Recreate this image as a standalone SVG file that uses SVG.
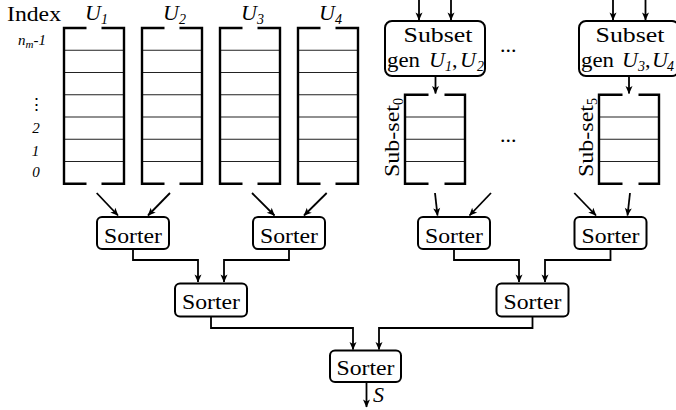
<svg xmlns="http://www.w3.org/2000/svg" width="676" height="410" viewBox="0 0 676 410">
<style>
.t{font-family:"Liberation Serif","Times New Roman",serif;font-size:22px;fill:#000}
.i{font-style:italic}
.lab{font-family:"Liberation Serif","Times New Roman",serif;font-style:italic;font-size:15px;fill:#000}
.frame{fill:none;stroke:#000;stroke-width:2.4}
.row{stroke:#222;stroke-width:1.1}
.box{fill:#fff;stroke:#000;stroke-width:2}
.con{fill:none;stroke:#000;stroke-width:1.8}
</style>
<defs>
<marker id="ah" viewBox="-8 -4 9 8" refX="0" refY="0" markerWidth="9" markerHeight="8" markerUnits="userSpaceOnUse" orient="auto">
<path d="M0.5,0 L-7.5,-3.5 L-5.5,0 L-7.5,3.5 Z" fill="#000"/>
</marker>
<g id="col7">
<path class="row" d="M0,22.25H60M0,44.5H60M0,66.75H60M0,89H60M0,111.25H60M0,133.5H60"/>
<path class="frame" d="M22.5,0H0V155.75H22.5M37.5,0H60V155.75H37.5"/>
</g>
<g id="col4">
<path class="row" d="M0,22.25H60M0,44.5H60M0,66.75H60"/>
<path class="frame" d="M23.5,0H0V89H23.5M39.5,0H60V89H39.5"/>
</g>
</defs>
<rect width="676" height="410" fill="#fff"/>

<g id="index">
<text class="t" x="7" y="21" textLength="54" lengthAdjust="spacingAndGlyphs">Index</text>
<text class="lab" x="18" y="45" font-size="16">n<tspan font-size="11" dy="3">m</tspan><tspan dy="-3">-1</tspan></text>
<text x="36.5" y="110" text-anchor="middle" font-family="DejaVu Serif, serif" font-size="17">⋮</text>
<text class="lab" x="36" y="133" text-anchor="middle">2</text>
<text class="lab" x="35.5" y="156" text-anchor="middle">1</text>
<text class="lab" x="36" y="177" text-anchor="middle">0</text>
</g>

<g id="u1">
<use href="#col7" x="64" y="28"/>
<text class="t i" x="85" y="20" font-size="20">U<tspan font-size="14" dy="4">1</tspan></text>
</g>
<g id="u2">
<use href="#col7" x="142" y="28"/>
<text class="t i" x="163" y="20" font-size="20">U<tspan font-size="14" dy="4">2</tspan></text>
</g>
<g id="u3">
<use href="#col7" x="220" y="28"/>
<text class="t i" x="241" y="20" font-size="20">U<tspan font-size="14" dy="4">3</tspan></text>
</g>
<g id="u4">
<use href="#col7" x="298" y="28"/>
<text class="t i" x="319" y="20" font-size="20">U<tspan font-size="14" dy="4">4</tspan></text>
</g>

<g id="gen1">
<rect class="box" x="385" y="21" width="100" height="55" rx="7"/>
<text class="t" x="438" y="42" text-anchor="middle" textLength="69" lengthAdjust="spacingAndGlyphs">Subset</text>
<text class="t" y="67"><tspan x="387" textLength="33" lengthAdjust="spacingAndGlyphs">gen</tspan><tspan x="429" class="i">U</tspan><tspan x="445" dy="4" font-size="14" class="i">1</tspan><tspan x="452" dy="-4">,</tspan><tspan x="460" class="i">U</tspan><tspan x="477" dy="4" font-size="14" class="i">2</tspan></text>
</g>
<g id="gen2">
<rect class="box" x="579" y="21" width="100" height="55" rx="7"/>
<text class="t" x="630" y="42" text-anchor="middle" textLength="69" lengthAdjust="spacingAndGlyphs">Subset</text>
<text class="t" y="67"><tspan x="581" textLength="33" lengthAdjust="spacingAndGlyphs">gen</tspan><tspan x="622" class="i">U</tspan><tspan x="638" dy="4" font-size="14" class="i">3</tspan><tspan x="645" dy="-4">,</tspan><tspan x="652" class="i">U</tspan><tspan x="667" dy="4" font-size="14" class="i">4</tspan></text>
</g>

<g id="sub0">
<use href="#col4" x="405" y="94.75"/>
<text class="t" transform="translate(399,177) rotate(-90)"><tspan textLength="72" lengthAdjust="spacingAndGlyphs">Sub-set</tspan><tspan font-size="14" dy="4">0</tspan></text>
</g>
<g id="sub5">
<use href="#col4" x="599" y="94.75"/>
<text class="t" transform="translate(593,177) rotate(-90)"><tspan textLength="72" lengthAdjust="spacingAndGlyphs">Sub-set</tspan><tspan font-size="14" dy="4">5</tspan></text>
</g>

<g id="dots">
<text class="t" x="500" y="52">...</text>
<text class="t" x="500" y="142">...</text>
</g>

<g id="s1"><rect class="box" x="97" y="217" width="72" height="32" rx="5"/><text class="t" x="133" y="242.5" text-anchor="middle" textLength="58" lengthAdjust="spacingAndGlyphs">Sorter</text></g>
<g id="s2"><rect class="box" x="253" y="217" width="72" height="32" rx="5"/><text class="t" x="289" y="242.5" text-anchor="middle" textLength="58" lengthAdjust="spacingAndGlyphs">Sorter</text></g>
<g id="s3"><rect class="box" x="418" y="217" width="72" height="32" rx="5"/><text class="t" x="454" y="242.5" text-anchor="middle" textLength="58" lengthAdjust="spacingAndGlyphs">Sorter</text></g>
<g id="s4"><rect class="box" x="574.5" y="217" width="72" height="32" rx="5"/><text class="t" x="610.5" y="242.5" text-anchor="middle" textLength="58" lengthAdjust="spacingAndGlyphs">Sorter</text></g>
<g id="s5"><rect class="box" x="175" y="283.5" width="72" height="33" rx="5"/><text class="t" x="211" y="309" text-anchor="middle" textLength="58" lengthAdjust="spacingAndGlyphs">Sorter</text></g>
<g id="s6"><rect class="box" x="496.5" y="283.5" width="72" height="33" rx="5"/><text class="t" x="532.5" y="309" text-anchor="middle" textLength="58" lengthAdjust="spacingAndGlyphs">Sorter</text></g>
<g id="s7"><rect class="box" x="330" y="350.5" width="71" height="31.5" rx="5"/><text class="t" x="365.5" y="375" text-anchor="middle" textLength="58" lengthAdjust="spacingAndGlyphs">Sorter</text></g>

<g id="connectors">
<path class="con" marker-end="url(#ah)" d="M96.7,193L118,215.5"/>
<path class="con" marker-end="url(#ah)" d="M170,193L148,215.5"/>
<path class="con" marker-end="url(#ah)" d="M252,193L274.5,215.5"/>
<path class="con" marker-end="url(#ah)" d="M326.7,193L304,215.5"/>
<path class="con" marker-end="url(#ah)" d="M435,193L437.5,215.5"/>
<path class="con" marker-end="url(#ah)" d="M491,193L469.5,215.5"/>
<path class="con" marker-end="url(#ah)" d="M574.3,193L596,215.5"/>
<path class="con" marker-end="url(#ah)" d="M630,193L627.5,215.5"/>
<path class="con" marker-end="url(#ah)" d="M133,249V260H198V282"/>
<path class="con" marker-end="url(#ah)" d="M289,249V260H224V282"/>
<path class="con" marker-end="url(#ah)" d="M454,249V260H519V282"/>
<path class="con" marker-end="url(#ah)" d="M610.5,249V260H545V282"/>
<path class="con" marker-end="url(#ah)" d="M211,316.5V328H353V349.5"/>
<path class="con" marker-end="url(#ah)" d="M532.5,316.5V328H379V349.5"/>
<path class="con" marker-end="url(#ah)" d="M366.5,382V407"/>
<path class="con" marker-end="url(#ah)" d="M419,0V20"/>
<path class="con" marker-end="url(#ah)" d="M451,0V20"/>
<path class="con" marker-end="url(#ah)" d="M613,0V20"/>
<path class="con" marker-end="url(#ah)" d="M645.5,0V20"/>
<path class="con" marker-end="url(#ah)" d="M435.5,76V93.5"/>
<path class="con" marker-end="url(#ah)" d="M629,76V93.5"/>
<text class="t i" x="373" y="402" font-size="20">S</text>
</g>
</svg>
